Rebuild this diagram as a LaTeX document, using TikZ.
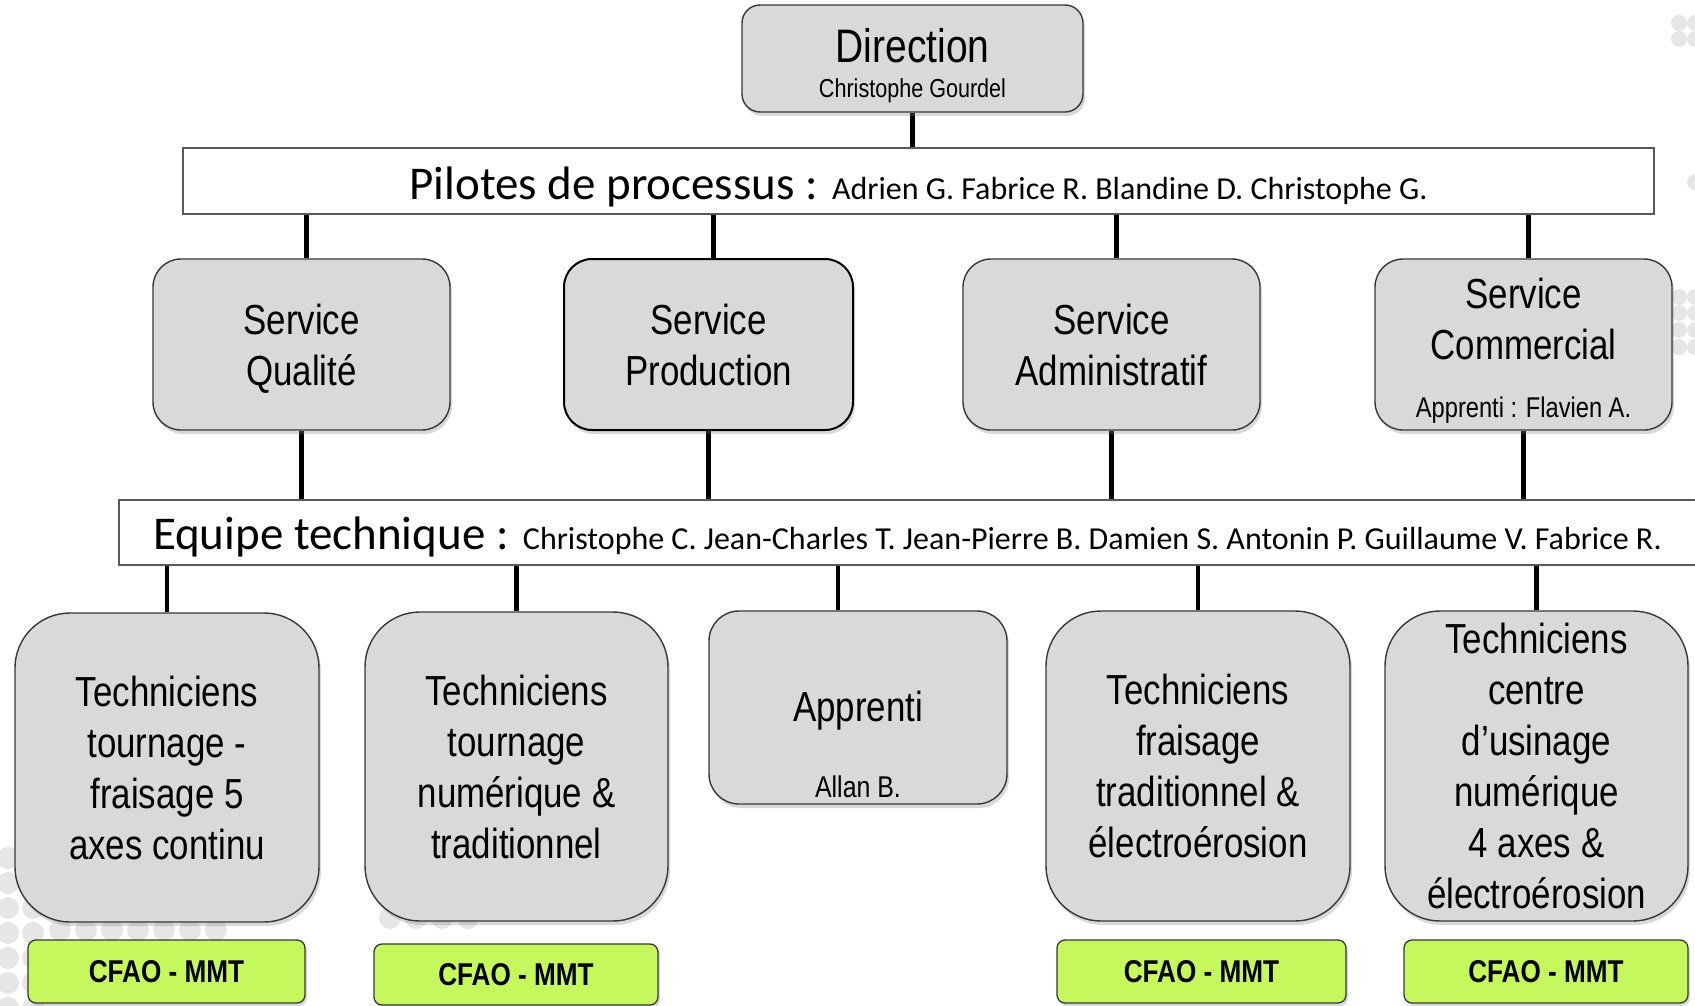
\documentclass[tikz,border=0pt]{standalone}
\usepackage{fontspec}
\setmainfont{Liberation Sans}
\newfontfamily\narrowf[FakeStretch=0.83]{Liberation Sans}
\newfontfamily\calib{Carlito}
\usetikzlibrary{shadows,backgrounds}
\definecolor{boxgray}{RGB}{217,217,217}
\definecolor{limegreen}{RGB}{197,248,92}
\definecolor{dotgray}{RGB}{230,230,230}
\definecolor{bordergray}{RGB}{55,55,55}
\begin{document}
\begin{tikzpicture}[x=1pt,y=-1pt,
  conn/.style={line width=4.5pt},
  gbox/.style={draw=bordergray,line width=1.4pt,fill=boxgray,rounded corners=#1,
     drop shadow={shadow xshift=2pt,shadow yshift=-4pt,opacity=0.3},
     align=center,inner sep=0pt,font=\narrowf\fontsize{42}{51}\selectfont},
  gbox/.default=28pt,
  barbox/.style={draw=black!65,line width=1.3pt,fill=white,inner ysep=0pt,font=\calib},
  cfao/.style={draw=bordergray,line width=1.3pt,fill=limegreen,rounded corners=8pt,
     drop shadow={shadow xshift=2pt,shadow yshift=-3pt,opacity=0.3},
     font=\narrowf\bfseries\fontsize{31.5}{31.5}\selectfont,inner sep=0pt},
  bgdot/.style={fill=dotgray,draw=none}]
\useasboundingbox (0,0) rectangle (1695,1006);

% top
\node[gbox=18pt,minimum width=341pt,minimum height=107pt,font=\narrowf\fontsize{26}{35}\selectfont] (dir) at (912.5,58.5)
  {\rule{0pt}{48pt}{\fontsize{47}{35}\selectfont Direction}\\Christophe Gourdel};

\node[barbox,minimum width=1471pt,minimum height=66pt,text height=40pt,text depth=2pt] (pil) at (918.5,181)
  {\fontsize{47}{47}\selectfont Pilotes de processus : {\fontsize{32}{32}\selectfont Adrien G. Fabrice R. Blandine D. Christophe G.}};

% services
\node[gbox,text depth=0pt,minimum width=297pt,minimum height=171pt] (sq) at (301.5,344.5) {Service\\Qualité};
\node[gbox,line width=2pt,draw=black,minimum width=289pt,minimum height=171pt] (sp) at (708.5,344.5) {Service\\Production};
\node[gbox,minimum width=297pt,minimum height=171pt] (sa) at (1111.5,344.5) {Service\\Administratif};
\node[gbox,minimum width=297pt,minimum height=171pt] (sc) at (1523.5,344.5)
  {\rule{0pt}{43pt}Service\\Commercial\\[6.5pt]{\fontsize{28.5}{30}\selectfont Apprenti : Flavien A.}};

\node[barbox,minimum height=65pt,inner xsep=34pt,text height=35pt,text depth=2pt] (eq) at (912,532.5)
  {\makebox[1518pt][l]{\fontsize{47}{47}\selectfont Equipe technique : {\fontsize{32}{32}\selectfont Christophe C. Jean-Charles T. Jean-Pierre B. Damien S. Antonin P. Guillaume V. Fabrice R.}}};

% bottom boxes
\node[gbox=55pt,minimum width=304pt,minimum height=309pt] (b1) at (167,767.5)
  {Techniciens\\tournage -\\fraisage 5\\axes continu};
\node[gbox=55pt,minimum width=303pt,minimum height=309pt] (b2) at (516.5,766.5)
  {Techniciens\\tournage\\numérique \&\\traditionnel};
\node[gbox=30pt,minimum width=298pt,minimum height=193pt] (b3) at (858,707.5) {\rule{0pt}{36pt}Apprenti};
\node[font=\narrowf\fontsize{30}{30}\selectfont,inner sep=0pt] (allan) at (858,787) {Allan B.};
\node[gbox=55pt,minimum width=304pt,minimum height=310pt] (b4) at (1198,766)
  {Techniciens\\fraisage\\traditionnel \&\\électroérosion};
\node[gbox=55pt,minimum width=303pt,minimum height=310pt] (b5) at (1536.5,766)
  {Techniciens\\centre\\d’usinage\\numérique\\4 axes \&\\électroérosion};

% green labels
\node[cfao,minimum width=277pt,minimum height=63pt] (g1) at (166.5,971.5) {CFAO - MMT};
\node[cfao,minimum width=284pt,minimum height=61pt] (g2) at (516,974.5) {CFAO - MMT};
\node[cfao,minimum width=289pt,minimum height=63pt] (g4) at (1201.5,971.5) {CFAO - MMT};
\node[cfao,minimum width=284pt,minimum height=63pt] (g5) at (1546,971.5) {CFAO - MMT};

\begin{pgfonlayer}{background}
  % decorative dots
  \foreach \y in {858,883,908,933,958,983,1008} \foreach \x in {8,33} \fill[bgdot] (\x,\y) circle (11pt);
  \foreach \x in {60,86,112,138,164,190,216} \fill[bgdot] (\x,930) circle (11pt);
  \foreach \x in {390,416,442,468} \fill[bgdot] (\x,918) circle (11pt);
  \foreach \y in {23,39} \foreach \x in {1679,1695} \fill[bgdot] (\x,\y) circle (8pt);
  \fill[bgdot] (1695,182) circle (8pt);
  \foreach \y in {297,313,330,347} \foreach \x in {1679,1695} \fill[bgdot] (\x,\y) circle (8pt);
  % connectors
  \draw[conn] (dir.south) -- (dir.south |- pil.north);
  \foreach \s in {sq,sp,sa,sc} {
    \draw[conn] ([xshift=5pt]\s.north |- pil.south) -- ([xshift=5pt]\s.north);
    \draw[conn] (\s.south) -- (\s.south |- eq.north);
  }
  \foreach \b in {b1,b2,b4,b5} \draw[conn] (\b.north |- eq.south) -- (\b.north);
  \draw[conn] ([xshift=-20pt]b3.north |- eq.south) -- ([xshift=-20pt]b3.north);
\end{pgfonlayer}
\end{tikzpicture}
\end{document}
